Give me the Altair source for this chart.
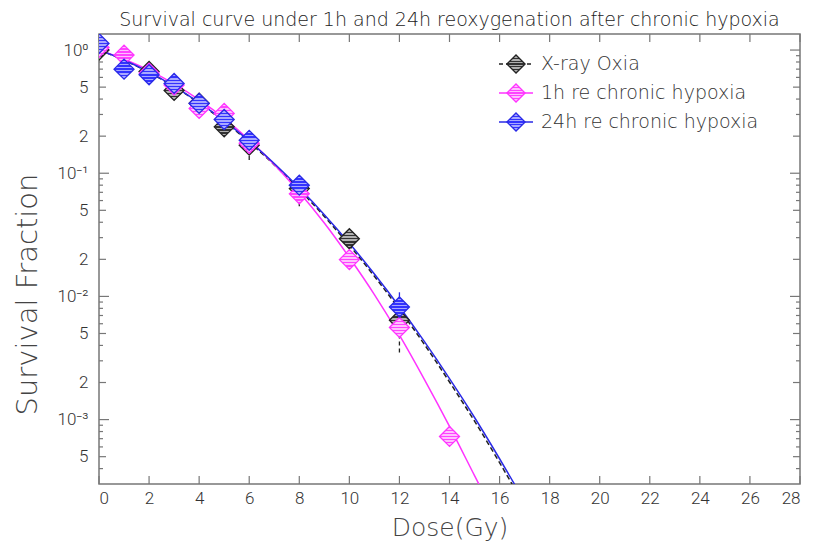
import altair as alt
import pandas as pd

TITLE = "Survival curve under 1h and 24h reoxygenation after chronic hypoxia"
NAMES = ["X-ray Oxia", "1h re chronic hypoxia", "24h re chronic hypoxia"]

# measured points
black_dose = [0, 2, 3, 4, 5, 6, 8, 10, 12]
black_sf = [1.0, 0.67, 0.47, 0.37, 0.238, 0.169, 0.075, 0.0294, 0.0064]
mag_dose = [0, 1, 2, 3, 4, 5, 6, 8, 10, 12, 14]
mag_sf = [1.05, 0.91, 0.65, 0.52, 0.336, 0.306, 0.175, 0.068, 0.0199, 0.0056, 0.00073]
blue_dose = [0, 1, 2, 3, 4, 5, 6, 8, 12]
blue_sf = [1.13, 0.70, 0.63, 0.536, 0.369, 0.273, 0.185, 0.080, 0.0082]

# error bars (dose, low, high)
blue_err_dose = [2, 6, 12]
blue_err_lo = [0.55, 0.15, 0.0055]
blue_err_hi = [0.72, 0.22, 0.0108]
black_err_dose = [6, 8, 10, 12]
black_err_lo = [0.128, 0.054, 0.022, 0.0035]
black_err_hi = [0.20, 0.095, 0.036, 0.0095]

# fitted curves
black_curve_dose = [0, 1, 2, 3, 4, 5, 6, 7, 8, 9, 10, 11, 12, 13, 14, 15, 16, 16.5]
black_curve_sf = [1.0, 0.827, 0.658, 0.504, 0.371, 0.2625, 0.1787, 0.117, 0.0737, 0.0446,
                  0.0260, 0.01456, 0.00785, 0.00407, 0.00202, 0.000971, 0.000447, 0.000299]
mag_curve_dose = [0, 1, 2, 3, 4, 5, 6, 7, 8, 9, 10, 11, 12, 13, 14, 15, 15.2]
mag_curve_sf = [1.0, 0.841, 0.684, 0.531, 0.394, 0.279, 0.186, 0.1175, 0.0700, 0.0394,
                0.0207, 0.01035, 0.00484, 0.00211, 0.000881, 0.000351, 0.000292]
blue_curve_dose = [0, 1, 2, 3, 4, 5, 6, 7, 8, 9, 10, 11, 12, 13, 14, 15, 16, 16.6]
blue_curve_sf = [1.0, 0.830, 0.662, 0.508, 0.375, 0.267, 0.182, 0.120, 0.0758, 0.0461,
                 0.0270, 0.0152, 0.00824, 0.00429, 0.00215, 0.00104, 0.000481, 0.000298]

x_ticks = list(range(0, 29, 2))
y_label_values = [1, 0.5, 0.2, 0.1, 0.05, 0.02, 0.01, 0.005, 0.002, 0.001, 0.0005]
y_label_texts = ["10⁰", "5", "2", "10⁻¹", "5", "2", "10⁻²", "5", "2", "10⁻³", "5"]
y_major = [1, 0.1, 0.01, 0.001]
y_mid = [0.5, 0.2, 0.05, 0.02, 0.005, 0.002, 0.0005]
y_minor = [0.9, 0.8, 0.7, 0.6, 0.4, 0.3, 0.09, 0.08, 0.07, 0.06, 0.04, 0.03,
           0.009, 0.008, 0.007, 0.006, 0.004, 0.003, 0.0009, 0.0008, 0.0007, 0.0006, 0.0004]

W, H = 701, 450
FONT = "Roboto"
WFONT = "DejaVu Sans"
FRAME = "#777777"
TXT = "#333333"

C_BLACK, C_MAG, C_BLUE = "#222222", "#ff33ff", "#2a2ae6"

xs = alt.Scale(domain=[0, 28], nice=False, zero=False)
ys = alt.Scale(type="log", domain=[0.0003, 1.35], nice=False)

X_AXIS = alt.Axis(
    values=x_ticks, title="Dose(Gy)", ticks=False, domain=False, grid=False,
    labelFont=FONT, labelFontSize=17, labelFontWeight=300, labelColor=TXT, labelPadding=6,
    titleFont=WFONT, titleFontSize=25, titleColor="#444444", titleFontWeight=200,
    titlePadding=9)
Y_AXIS = alt.Axis(
    values=y_label_values, title="Survival Fraction", ticks=False, domain=False, grid=False,
    labelExpr="[" + ",".join("'" + t + "'" for t in y_label_texts) + "][indexof(["
              + ",".join(repr(v) for v in y_label_values) + "], datum.value)]",
    labelFont=FONT, labelFontSize=17, labelFontWeight=300, labelColor=TXT, labelPadding=11,
    titleFont=WFONT, titleFontSize=29, titleColor="#444444", titleFontWeight=200,
    titlePadding=14, titleY=260)


def stripes(c1, c2, n=13):
    stops = []
    for i in range(n):
        c = c1 if i % 2 == 0 else c2
        stops.append({"offset": i / n, "color": c})
        stops.append({"offset": (i + 1) / n, "color": c})
    return {"gradient": "linear", "x1": 0, "y1": 0, "x2": 0, "y2": 1, "stops": stops}


FILLS = [stripes("#333333", "#b0b0b0"), stripes("#ff44ff", "#ffc0ff"), stripes("#3333ff", "#a8a8ff")]
STROKES = [C_BLACK, C_MAG, C_BLUE]

X = lambda f: alt.X(f, type="quantitative", scale=xs, axis=X_AXIS)
Y = lambda f: alt.Y(f, type="quantitative", scale=ys, axis=Y_AXIS)

layers = []

# inward ticks
xt = pd.DataFrame({"d": x_ticks})
layers.append(alt.Chart(xt).mark_rule(color=FRAME, strokeWidth=1.2).encode(
    x=X("d"), y=alt.value(H), y2=alt.value(H - 8)))
layers.append(alt.Chart(xt).mark_rule(color=FRAME, strokeWidth=1.2).encode(
    x=X("d"), y=alt.value(0), y2=alt.value(8)))
for vals, ln in [(y_major, 10), (y_mid, 7), (y_minor, 4)]:
    yt = pd.DataFrame({"s": vals})
    layers.append(alt.Chart(yt).mark_rule(color=FRAME, strokeWidth=1.2).encode(
        y=Y("s"), x=alt.value(0), x2=alt.value(ln)))
    layers.append(alt.Chart(yt).mark_rule(color=FRAME, strokeWidth=1.2).encode(
        y=Y("s"), x=alt.value(W), x2=alt.value(W - ln)))

# curves
curves = [(black_curve_dose, black_curve_sf, C_BLACK, [5, 3]),
          (mag_curve_dose, mag_curve_sf, C_MAG, None),
          (blue_curve_dose, blue_curve_sf, C_BLUE, None)]
for d, s, c, dash in curves:
    kw = dict(color=c, strokeWidth=1.5, interpolate="monotone", clip=True)
    if dash:
        kw["strokeDash"] = dash
    layers.append(alt.Chart(pd.DataFrame({"d": d, "s": s})).mark_line(**kw).encode(
        x=X("d"), y=Y("s"), order="d:Q"))

# error bars
layers.append(alt.Chart(pd.DataFrame({"d": black_err_dose, "lo": black_err_lo, "hi": black_err_hi}))
              .mark_rule(color=C_BLACK, strokeWidth=1.3, strokeDash=[4, 3]).encode(
    x=X("d"), y=Y("lo"), y2="hi:Q"))
layers.append(alt.Chart(pd.DataFrame({"d": blue_err_dose, "lo": blue_err_lo, "hi": blue_err_hi}))
              .mark_rule(color=C_BLUE, strokeWidth=1.3).encode(
    x=X("d"), y=Y("lo"), y2="hi:Q"))

# points
for (d, s), fill, stroke in zip([(black_dose, black_sf), (mag_dose, mag_sf), (blue_dose, blue_sf)],
                                FILLS, STROKES):
    layers.append(alt.Chart(pd.DataFrame({"d": d, "s": s})).mark_point(
        shape="diamond", filled=True, fill=fill, stroke=stroke, strokeWidth=1.3,
        size=400, opacity=1, fillOpacity=1, clip=True).encode(x=X("d"), y=Y("s")))

# legend
leg_y = [30, 59, 88]
for i, name in enumerate(NAMES):
    one = pd.DataFrame({"t": [name]})
    rk = dict(color=STROKES[i], strokeWidth=1.5)
    if i == 0:
        rk["strokeDash"] = [4, 3]
    layers.append(alt.Chart(one).mark_rule(**rk).encode(
        x=alt.value(400), x2=alt.value(434), y=alt.value(leg_y[i])))
    layers.append(alt.Chart(one).mark_point(
        shape="diamond", filled=True, fill=FILLS[i], stroke=STROKES[i], strokeWidth=1.3,
        size=330, opacity=1, fillOpacity=1).encode(x=alt.value(417), y=alt.value(leg_y[i])))
    layers.append(alt.Chart(one).mark_text(
        align="left", baseline="middle", font=WFONT, fontSize=19, fontWeight=200, color=TXT).encode(
        x=alt.value(442), y=alt.value(leg_y[i]), text="t:N"))

chart = alt.layer(*layers).properties(
    width=W, height=H,
    title=alt.TitleParams(TITLE, font=WFONT, fontSize=19, fontWeight=200, color="#222222",
                          anchor="middle", offset=3),
    autosize=alt.AutoSizeParams(type="none"),
    padding={"left": 91, "top": 26, "right": 12, "bottom": 58},
).configure_view(stroke=FRAME, strokeWidth=1.5)

chart.save("out.html", embed_options={"renderer": "svg", "actions": False})
